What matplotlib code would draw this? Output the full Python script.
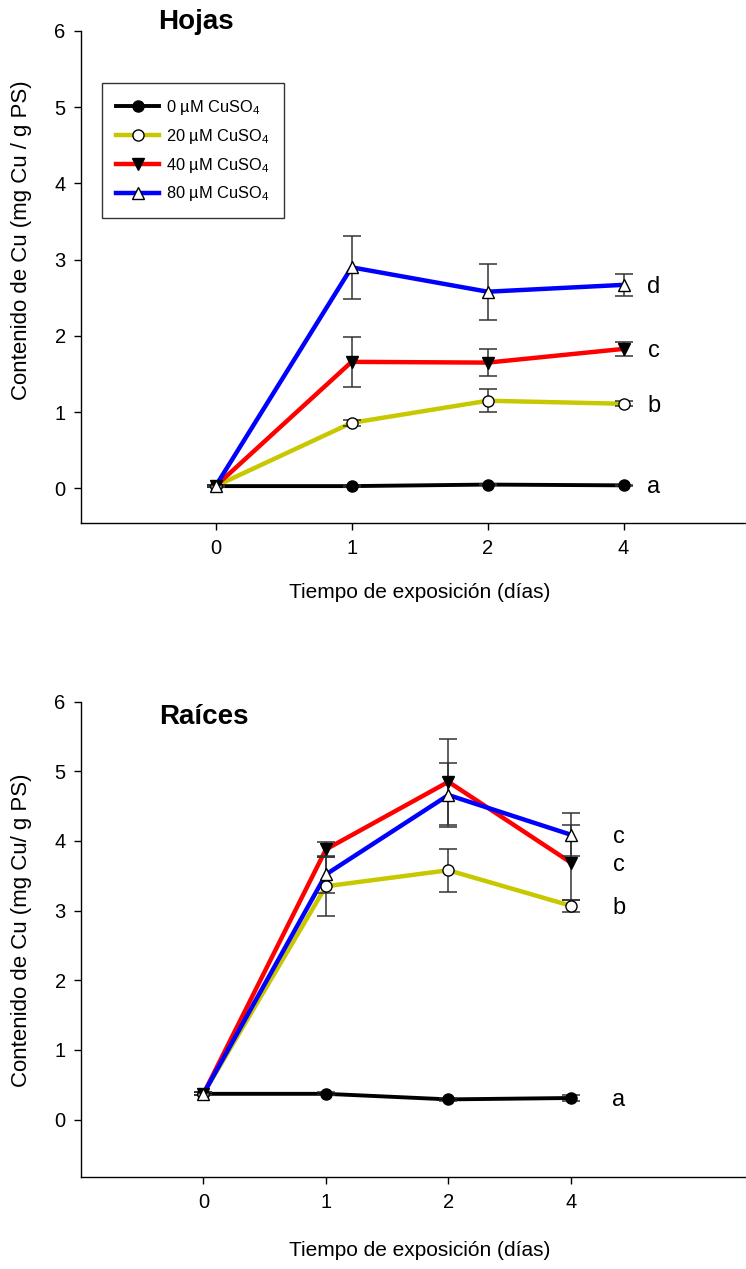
import matplotlib.pyplot as plt
import numpy as np
from matplotlib.legend_handler import HandlerTuple

plt.rcParams['font.family'] = ['Liberation Sans', 'DejaVu Sans']
plt.rcParams['mathtext.default'] = 'regular'

days = ['0', '1', '2', '4']
series_labels = ['0 \u00b5M CuSO$_4$', '20 \u00b5M CuSO$_4$', '40 \u00b5M CuSO$_4$', '80 \u00b5M CuSO$_4$']
colors = ['black', '#c8c800', '#ff0000', '#0000ff']
markers = ['o', 'o', 'v', '^']
faces = ['black', 'white', 'black', 'white']

# Hojas (leaves)
hojas_0 = [0.03, 0.03, 0.05, 0.04]
hojas_20 = [0.03, 0.86, 1.15, 1.11]
hojas_40 = [0.03, 1.66, 1.65, 1.83]
hojas_80 = [0.03, 2.90, 2.58, 2.67]
hojas_0_err = [0.01, 0.01, 0.01, 0.01]
hojas_20_err = [0.01, 0.04, 0.15, 0.03]
hojas_40_err = [0.01, 0.33, 0.175, 0.09]
hojas_80_err = [0.01, 0.41, 0.37, 0.145]
hojas_letters = ['a', 'b', 'c', 'd']

# Raices (roots)
raices_0 = [0.37, 0.37, 0.29, 0.31]
raices_20 = [0.37, 3.35, 3.58, 3.07]
raices_40 = [0.37, 3.88, 4.85, 3.69]
raices_80 = [0.37, 3.52, 4.66, 4.09]
raices_0_err = [0.02, 0.02, 0.02, 0.05]
raices_20_err = [0.02, 0.42, 0.31, 0.086]
raices_40_err = [0.02, 0.11, 0.62, 0.54]
raices_80_err = [0.02, 0.27, 0.455, 0.31]
raices_letters = ['a', 'b', 'c', 'c']

fig = plt.figure(figsize=(7.46, 12.69), dpi=100)
W, H = 746, 1269
ax1 = fig.add_axes([81 / W, 1 - 522.7 / H, 665 / W, (522.7 - 31) / H])
ax2 = fig.add_axes([81 / W, 1 - 1176.7 / H, 665 / W, (1176.7 - 701.7) / H])

panels = [
    (ax1, [hojas_0, hojas_20, hojas_40, hojas_80],
     [hojas_0_err, hojas_20_err, hojas_40_err, hojas_80_err], hojas_letters,
     (-0.99, 3.9), (-0.45, 6), 30),
    (ax2, [raices_0, raices_20, raices_40, raices_80],
     [raices_0_err, raices_20_err, raices_40_err, raices_80_err], raices_letters,
     (-1.0, 4.43), (-0.82, 6), 48),
]

x = np.arange(len(days))
handles = []
for ax, means, errs, letters, xl, yl, dx in panels:
    handles = []
    for i in range(4):
        ln, = ax.plot(x, means[i], color=colors[i], lw=3.2 if i else 2.8, zorder=2)
        ax.errorbar(x, means[i], yerr=errs[i], fmt='none', ecolor='#333333',
                    elinewidth=1.1, capsize=6.5, capthick=1.1, zorder=3)
        mk, = ax.plot(x, means[i], ls='none', marker=markers[i], ms=8,
                      mfc=faces[i], mec='black', mew=1, zorder=4)
        handles.append((ln, mk))
    # significance letters next to the last point
    order = np.argsort([m[-1] for m in means])
    for k, idx in enumerate(order):
        ax.annotate(letters[k], (x[-1], means[idx][-1]), xytext=(dx, -2),
                    textcoords='offset pixels', ha='center', va='center',
                    fontsize=17)
    ax.set_xlim(*xl)
    ax.set_ylim(*yl)
    ax.set_xticks(x)
    ax.set_xticklabels(days)
    ax.set_yticks(range(0, 7))
    ax.spines['top'].set_visible(False)
    ax.spines['right'].set_visible(False)
    ax.spines['left'].set_linewidth(1)
    ax.spines['bottom'].set_linewidth(1)
    ax.tick_params(axis='both', labelsize=14.5, length=5, width=1)
    ax.tick_params(axis='x', pad=7)
    ax.tick_params(axis='y', pad=6)

leg = ax1.legend(handles, series_labels, handler_map={tuple: HandlerTuple(ndivide=1)},
                 loc='upper left', bbox_to_anchor=(0.031, 0.894), fontsize=11.8,
                 frameon=True, fancybox=False, handlelength=2.6, handletextpad=0.45,
                 borderpad=0.9, labelspacing=0.6, borderaxespad=0)
leg.get_frame().set_edgecolor('black')
leg.get_frame().set_linewidth(1)

fig.text(196 / W, 1 - 22 / H, 'Hojas', fontsize=20, fontweight='bold', ha='center', va='center')
fig.text(204 / W, 1 - 717 / H, 'Ra\u00edces', fontsize=20, fontweight='bold', ha='center', va='center')
fig.text(22 / W, 1 - 240 / H, 'Contenido de Cu (mg Cu / g PS)', fontsize=16,
         rotation=90, ha='center', va='center')
fig.text(22 / W, 1 - 930 / H, 'Contenido de Cu (mg Cu/ g PS)', fontsize=16,
         rotation=90, ha='center', va='center')
fig.text(420 / W, 1 - 592 / H, 'Tiempo de exposici\u00f3n (d\u00edas)', fontsize=15,
         ha='center', va='center')
fig.text(420 / W, 1 - 1250 / H, 'Tiempo de exposici\u00f3n (d\u00edas)', fontsize=15,
         ha='center', va='center')

fig.savefig('out.png', dpi=100)
